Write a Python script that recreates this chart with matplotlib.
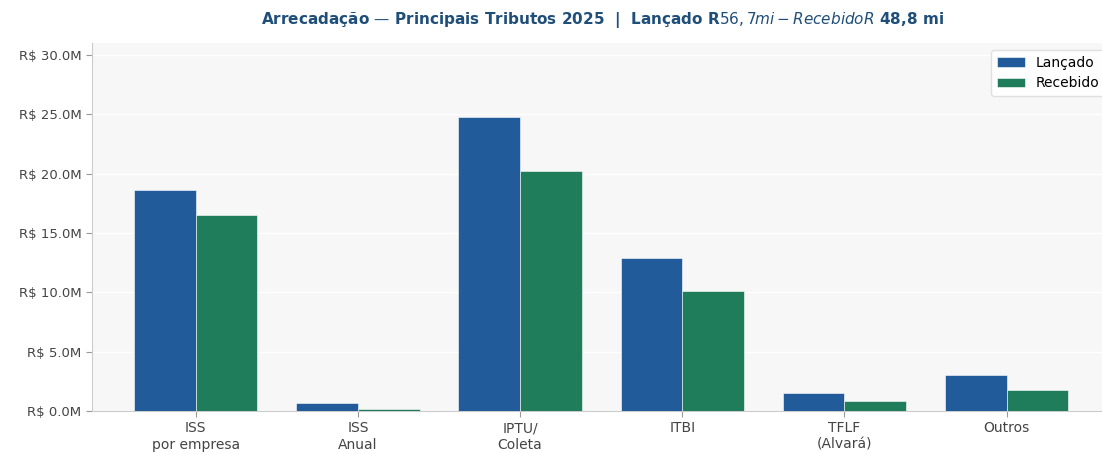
import numpy as np
import matplotlib.pyplot as plt
from matplotlib.ticker import FuncFormatter

###Dados
categorias = ['ISS\npor empresa', 'ISS\nAnual', 'IPTU/\nColeta', 'ITBI', 'TFLF\n(Alvará)', 'Outros']
lancado = [18.6, 0.7, 24.8, 12.9, 1.5, 3.0]  # milhões R$
recebido = [16.5, 0.2, 20.2, 10.1, 0.85, 1.8]
titulo = 'Arrecadação — Principais Tributos 2025  |  Lançado R$ 56,7 mi - Recebido R$ 48,8 mi'

cor_lanc = '#215b9a'
cor_rec = '#1f7d5c'

fig = plt.figure(figsize=(11.02, 4.54), dpi=100)
ax = fig.add_axes([92/1102, 43/454, 1020/1102, 368/454])
ax.set_facecolor('#f7f7f7')

x = np.arange(len(categorias))
w = 0.38
ax.bar(x - w/2, lancado, w, color=cor_lanc, label='Lançado', edgecolor='white', linewidth=0.4, zorder=3)
ax.bar(x + w/2, recebido, w, color=cor_rec, label='Recebido', edgecolor='white', linewidth=0.4, zorder=3)

ax.set_xlim(-0.64, 5.65)
ax.set_ylim(0, 31)
ax.set_yticks(np.arange(0, 31, 5))
ax.yaxis.set_major_formatter(FuncFormatter(lambda v, p: 'R\\$ %.1fM' % v))
ax.set_xticks(x)
ax.set_xticklabels(categorias, fontsize=10, color='#444444')
ax.tick_params(axis='y', labelsize=9.5, labelcolor='#444444', color='#999999', length=4)
ax.tick_params(axis='x', color='#999999', length=4)
ax.grid(axis='y', color='white', linewidth=1.0, zorder=0)

for s in ['top', 'right']:
    ax.spines[s].set_visible(False)
for s in ['left', 'bottom']:
    ax.spines[s].set_color('#cccccc')

ax.legend(loc='upper right', fontsize=10, frameon=True, framealpha=0.9, edgecolor='#dddddd')
ax.set_title(titulo, fontsize=11, fontweight='bold', color='#1f4e79', pad=14)

plt.savefig('out.png', dpi=100)
